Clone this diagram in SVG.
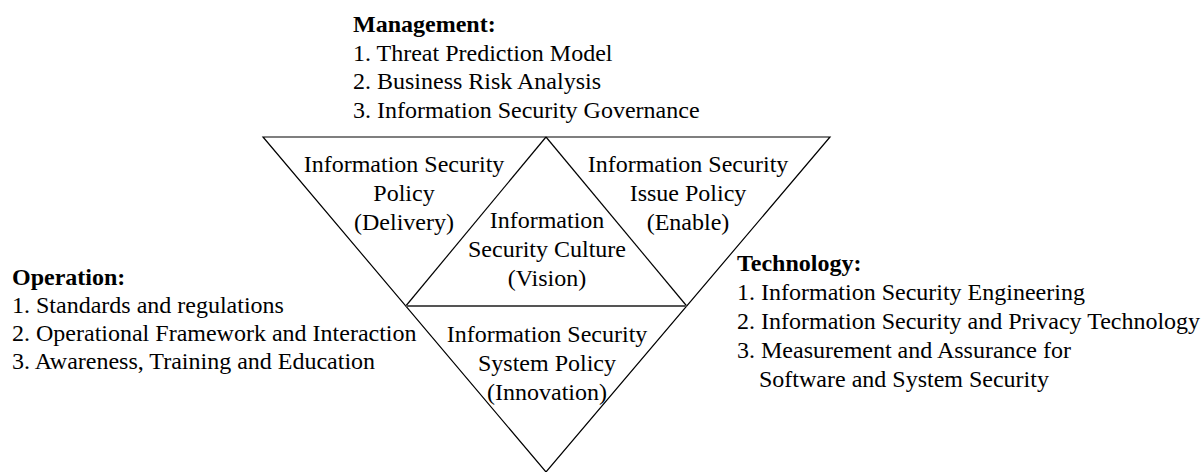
<svg xmlns="http://www.w3.org/2000/svg" width="1203" height="472" viewBox="0 0 1203 472">
  <style>
    text { font-family: "Liberation Serif", "Times New Roman", serif; font-size: 24px; fill: #000; }
    .head { font-weight: bold; }
    .mid { text-anchor: middle; }
    .edge { fill: none; stroke: #000; stroke-width: 1.2; stroke-linejoin: miter; }
    .base { fill: none; stroke: #555; stroke-width: 2; }
  </style>
  <rect width="1203" height="472" fill="#fff"/>

  <!-- outer inverted triangle and the inner one that splits it into four parts -->
  <g id="frame">
    <polygon class="edge" points="263,137 830,137 546,472"/>
    <line class="edge" x1="405.8" y1="306" x2="546" y2="137"/>
    <line class="edge" x1="546" y1="137" x2="686.7" y2="306"/>
    <line class="base" x1="405.8" y1="306" x2="686.7" y2="306"/>
  </g>

  <g id="connectors"></g>

  <!-- left segment -->
  <g id="policy-delivery">
    <text class="mid" x="404" y="172">Information Security</text>
    <text class="mid" x="404" y="201">Policy</text>
    <text class="mid" x="404" y="230">(Delivery)</text>
  </g>

  <!-- right segment -->
  <g id="issue-policy-enable">
    <text class="mid" x="688" y="172">Information Security</text>
    <text class="mid" x="688" y="201">Issue Policy</text>
    <text class="mid" x="688" y="230">(Enable)</text>
  </g>

  <!-- centre segment -->
  <g id="culture-vision">
    <text class="mid" x="547" y="228">Information</text>
    <text class="mid" x="547" y="257">Security Culture</text>
    <text class="mid" x="547" y="286">(Vision)</text>
  </g>

  <!-- bottom segment -->
  <g id="system-policy-innovation">
    <text class="mid" x="547" y="342">Information Security</text>
    <text class="mid" x="547" y="371">System Policy</text>
    <text class="mid" x="547" y="400">(Innovation)</text>
  </g>

  <!-- side lists -->
  <g id="management">
    <text class="head" x="353" y="32">Management:</text>
    <text x="353" y="60.5">1. Threat Prediction Model</text>
    <text x="353" y="89">2. Business Risk Analysis</text>
    <text x="353" y="117.5">3. Information Security Governance</text>
  </g>

  <g id="operation">
    <text class="head" x="12" y="285">Operation:</text>
    <text x="12" y="313">1. Standards and regulations</text>
    <text x="12" y="341">2. Operational Framework and Interaction</text>
    <text x="12" y="369">3. Awareness, Training and Education</text>
  </g>

  <g id="technology">
    <text class="head" x="737" y="271">Technology:</text>
    <text x="737" y="300">1. Information Security Engineering</text>
    <text x="737" y="329">2. Information Security and Privacy Technology</text>
    <text x="737" y="358">3. Measurement and Assurance for</text>
    <text x="759" y="387">Software and System Security</text>
  </g>
</svg>
